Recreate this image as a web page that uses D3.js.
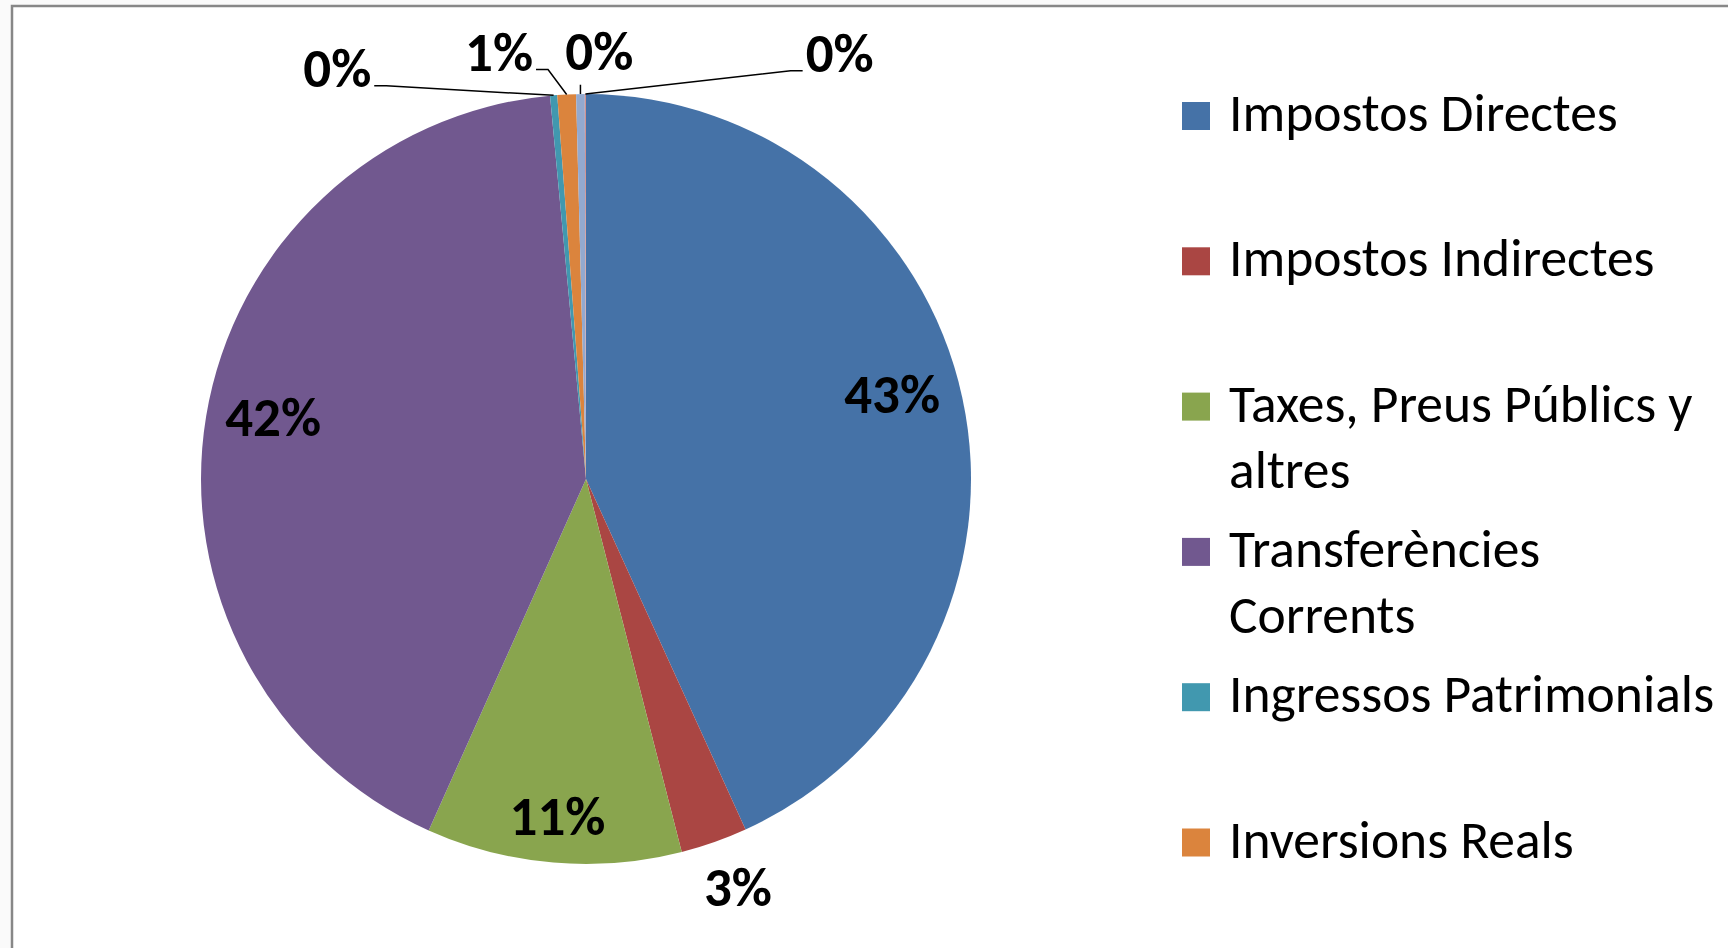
<html>
<head>
<meta charset="utf-8">
<script src="https://d3js.org/d3.v7.min.js"></script>
<style>
  body { margin: 0; background: #fafafa; }
  svg { display: block; }
  .lbl { font-family: Carlito, Calibri, Lato, sans-serif; font-weight: bold; font-size: 55px; fill: #000; }
  .leg { font-family: Carlito, Calibri, Lato, sans-serif; font-size: 53.5px; fill: #000; }
</style>
</head>
<body>
<svg width=1728 height=948></svg>
<script>
// budget income chapters, share of total (%)
var categories = ["Impostos Directes", "Impostos Indirectes", "Taxes, Preus Públics y altres",
  "Transferències Corrents", "Ingressos Patrimonials", "Inversions Reals",
  "Transferències de Capital", "Actius Financers"];
var shares = [43.2, 2.8, 10.7, 41.81, 0.30, 0.78, 0.36, 0.05];
var colors = ["#4572A7", "#AA4643", "#89A54E", "#71588F", "#4198AF", "#DB843D", "#93A9CF", "#D19392"];

// where excel put each data label: radius factor and angle shift (deg) from slice middle
var labelLayout = [
  {k: 0.826, da: -3.5, leader: false},
  {k: 1.13, da: -1, leader: false},
  {k: 0.876, da: 0, leader: false},
  {k: 0.829, da: 2, leader: false},
  {k: 1.25, da: -26.3, leader: true},
  {k: 1.135, da: -8.6, leader: true},
  {k: 1.115, da: 2.6, leader: true},
  {k: 1.29, da: 30.8, leader: true}
];

var W = 1728, H = 948;
var svg = d3.select("svg");
var cx = 586, cy = 479, r = 385;

// chart area frame (runs off the right and bottom edge)
svg.append("rect")
  .attr("x", 12).attr("y", 6)
  .attr("width", 1800).attr("height", 1000)
  .attr("fill", "#fff")
  .attr("stroke", "#878787")
  .attr("stroke-width", 2.5);

var pie = d3.pie().sort(null).value(function(d) { return d; });
var arcs = pie(shares);
var arc = d3.arc().innerRadius(0).outerRadius(r);
var fmt = d3.format(".0%");

var g = svg.append("g").attr("transform", "translate(" + cx + "," + cy + ")");

g.selectAll("path")
  .data(arcs)
  .enter()
  .append("path")
  .attr("d", arc)
  .attr("fill", function(d, i) { return colors[i]; });

var labels = svg.append("g").attr("transform", "translate(" + cx + "," + cy + ")");

arcs.forEach(function(d, i) {
  var mid = (d.startAngle + d.endAngle) / 2;
  var lay = labelLayout[i];
  var a = mid + lay.da * Math.PI / 180;
  var lx = Math.sin(a) * lay.k * r;
  var ly = -Math.cos(a) * lay.k * r;
  var t = labels.append("text")
    .attr("class", "lbl")
    .attr("x", lx).attr("y", ly)
    .attr("dy", "0.36em")
    .attr("text-anchor", "middle")
    .text(fmt(shares[i] / 100));
  if (!lay.leader) return;
  var bb = t.node().getBBox();
  var base = ly + 0.36 * 55;
  var px = Math.sin(mid) * r, py = -Math.cos(mid) * r;
  var pts;
  if (px >= bb.x && px <= bb.x + bb.width) {
    pts = [[px, base + 15], [px, py]];
  } else if (px > bb.x + bb.width) {
    var s = bb.x + bb.width + 3;
    pts = [[s, base - 1], [s + 12, base - 1], [px, py]];
  } else {
    var s2 = bb.x - 3;
    pts = [[s2, base - 1], [s2 - 12, base - 1], [px, py]];
  }
  labels.append("path")
    .attr("d", d3.line()(pts))
    .attr("fill", "none")
    .attr("stroke", "#000")
    .attr("stroke-width", 1.5);
});

// legend (entries below the bottom edge are clipped away like in the source)
var legX = 1182, legY = 116, legStep = 145.3, sq = 28, lineH = 66, maxW = 495;
var leg = svg.append("g");
categories.forEach(function(name, i) {
  var y = legY + i * legStep;
  if (y - sq / 2 > H) return;
  leg.append("rect")
    .attr("x", legX).attr("y", y - sq / 2)
    .attr("width", sq).attr("height", sq)
    .attr("fill", colors[i]);
  var t = leg.append("text").attr("class", "leg").attr("x", 1229).attr("y", y + 15);
  var words = name.split(" "), line = [];
  var ts = t.append("tspan").attr("x", 1229).attr("dy", 0);
  words.forEach(function(w) {
    line.push(w);
    ts.text(line.join(" "));
    if (ts.node().getComputedTextLength() > maxW && line.length > 1) {
      line.pop();
      ts.text(line.join(" "));
      line = [w];
      ts = t.append("tspan").attr("x", 1229).attr("dy", lineH).text(w);
    }
  });
});
</script>
</body>
</html>
